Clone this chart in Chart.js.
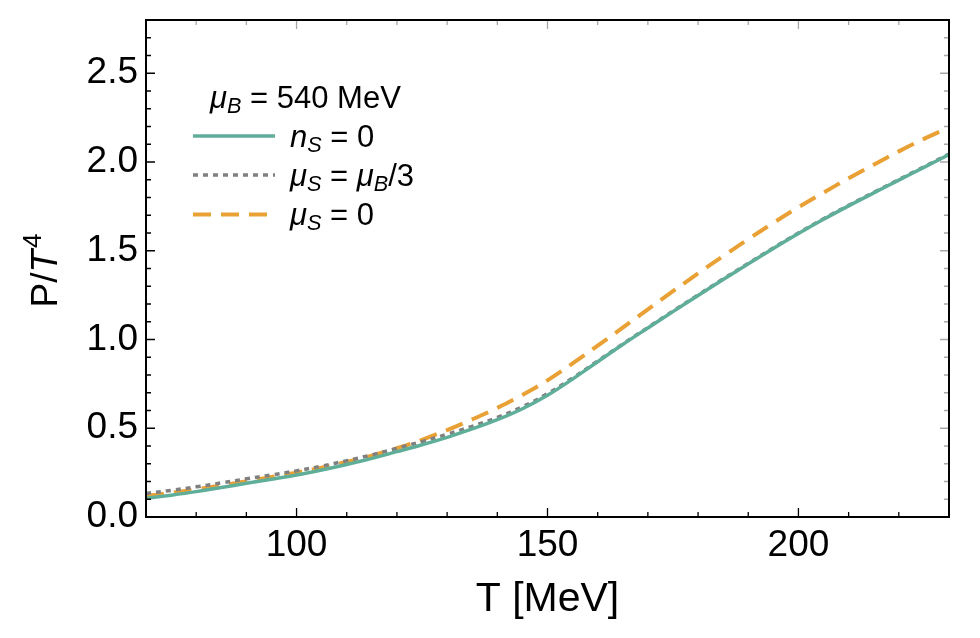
<!DOCTYPE html>
<html>
<head>
<meta charset="utf-8">
<script src="https://cdn.jsdelivr.net/npm/chart.js@4.4.1/dist/chart.umd.min.js"></script>
<style>
  html, body { margin: 0; padding: 0; background: #ffffff; }
  canvas { display: block; }
</style>
</head>
<body>
<canvas id="c" width="980" height="638"></canvas>
<script>
// ---- data ----
const temps = [70,75,80,85,90,95,100,105,110,115,120,125,130,135,140,145,150,155,160,165,170,175,180,185,190,195,200,205,210,215,220,225,230];
const nS0 = [0.105,0.123,0.143,0.166,0.190,0.213,0.237,0.265,0.296,0.330,0.368,0.407,0.449,0.496,0.548,0.610,0.686,0.777,0.875,0.972,1.065,1.157,1.248,1.338,1.426,1.513,1.597,1.677,1.753,1.826,1.898,1.970,2.042];
const muSthird = [0.133,0.150,0.170,0.192,0.215,0.237,0.260,0.287,0.317,0.350,0.387,0.425,0.466,0.511,0.561,0.621,0.695,0.783,0.879,0.975,1.068,1.160,1.251,1.341,1.429,1.516,1.600,1.680,1.756,1.829,1.901,1.973,2.045];
const muS0 = [0.118,0.136,0.156,0.178,0.201,0.225,0.250,0.278,0.310,0.346,0.388,0.435,0.490,0.550,0.615,0.688,0.770,0.865,0.965,1.067,1.170,1.272,1.372,1.470,1.565,1.657,1.745,1.828,1.908,1.985,2.060,2.130,2.195];

const xTickVals = [100,150,200];
const xTickLabels = ['100','150','200'];
const yTickVals = [0,0.5,1,1.5,2,2.5];
const yTickLabels = ['0.0','0.5','1.0','1.5','2.0','2.5'];
const xMinorStep = 10;
const yMinorStep = 0.1;

const legendTitle = [{t:'\u03BC', it:true},{t:'B', it:true, sub:true},{t:' = 540 MeV'}];
const legendRows = [
  [{t:'n', it:true},{t:'S', it:true, sub:true},{t:' = 0'}],
  [{t:'\u03BC', it:true},{t:'S', it:true, sub:true},{t:' = '},{t:'\u03BC', it:true},{t:'B', it:true, sub:true},{t:'/3'}],
  [{t:'\u03BC', it:true},{t:'S', it:true, sub:true},{t:' = 0'}]
];

const FONT = '"Liberation Sans", Arial, Helvetica, sans-serif';
const TEAL = '#5fae99';
const GRAY = '#808080';
const ORANGE = '#e9a135';

function pts(ys) { return temps.map((t, i) => ({x: t, y: ys[i]})); }

function drawRich(ctx, x, y, parts, size) {
  let cx = x;
  for (const p of parts) {
    const s = p.sub ? size * 0.7 : size;
    ctx.font = (p.it ? 'italic ' : '') + s + 'px ' + FONT;
    ctx.fillText(p.t, cx, p.sub ? y + 5 : y);
    cx += ctx.measureText(p.t).width;
  }
  return cx;
}

const decor = {
  id: 'decor',
  afterDraw(chart) {
    const ctx = chart.ctx;
    const a = chart.chartArea;
    const xs = chart.scales.x, ys = chart.scales.y;
    ctx.save();
    const tick = (color, list) => {
      ctx.strokeStyle = color; ctx.lineWidth = 1.3;
      ctx.beginPath();
      for (const l of list) { ctx.moveTo(l[0], l[1]); ctx.lineTo(l[2], l[3]); }
      ctx.stroke();
    };
    const bottomL = [], topL = [], leftL = [], rightL = [];
    for (let v = 70; v <= 230.001; v += xMinorStep) {
      const px = xs.getPixelForValue(v);
      const major = xTickVals.some(m => Math.abs(m - v) < 1e-6);
      const len = major ? 9 : 5;
      bottomL.push([px, a.bottom, px, a.bottom - len]);
      topL.push([px, a.top, px, a.top + len]);
    }
    for (let k = 0; k <= 28; k++) {
      const v = k * yMinorStep;
      const py = ys.getPixelForValue(v);
      const major = yTickVals.some(m => Math.abs(m - v) < 1e-6);
      const len = major ? 9 : 5;
      leftL.push([a.left, py, a.left + len, py]);
      rightL.push([a.right, py, a.right - len, py]);
    }
    tick('#000000', bottomL);
    tick('#000000', leftL);
    tick('#a8a8a8', topL);
    tick('#a8a8a8', rightL);
    ctx.strokeStyle = '#000000';
    ctx.lineWidth = 2;
    ctx.strokeRect(a.left, a.top, a.right - a.left, a.bottom - a.top);

    // axis titles
    ctx.fillStyle = '#000000';
    ctx.textBaseline = 'alphabetic';
    ctx.textAlign = 'center';
    ctx.font = '41px ' + FONT;
    ctx.fillText('T [MeV]', (a.left + a.right) / 2, 611);

    ctx.save();
    ctx.translate(57, (a.top + a.bottom) / 2 + 2);
    ctx.rotate(-Math.PI / 2);
    ctx.textAlign = 'left';
    const ys1 = 37;
    ctx.font = ys1 + 'px ' + FONT;
    const w1 = ctx.measureText('P/').width;
    ctx.font = 'italic ' + ys1 + 'px ' + FONT;
    const w2 = ctx.measureText('T').width;
    ctx.font = (ys1 * 0.7) + 'px ' + FONT;
    const w3 = ctx.measureText('4').width;
    let sx = -(w1 + w2 + w3 + 2) / 2;
    ctx.font = ys1 + 'px ' + FONT;
    ctx.fillText('P/', sx, 0); sx += w1;
    ctx.font = 'italic ' + ys1 + 'px ' + FONT;
    ctx.fillText('T', sx, 0); sx += w2 + 2;
    ctx.font = (ys1 * 0.7) + 'px ' + FONT;
    ctx.fillText('4', sx, -16);
    ctx.restore();

    // legend
    ctx.textAlign = 'left';
    ctx.fillStyle = '#000000';
    const lsize = 31;
    drawRich(ctx, 210, 108, legendTitle, lsize);
    const rowBase = [146.5, 185.5, 225];
    const ds = chart.data.datasets;
    legendRows.forEach((row, i) => {
      const d = ds[i];
      ctx.save();
      ctx.strokeStyle = d.borderColor;
      ctx.lineWidth = d.borderWidth;
      ctx.setLineDash(d.borderDash || []);
      ctx.lineCap = 'butt';
      ctx.beginPath();
      ctx.moveTo(193, rowBase[i] - 10.5);
      ctx.lineTo(275, rowBase[i] - 10.5);
      ctx.stroke();
      ctx.restore();
      ctx.fillStyle = '#000000';
      drawRich(ctx, 290, rowBase[i], row, lsize);
    });
    ctx.restore();
  }
};

new Chart(document.getElementById('c'), {
  type: 'line',
  data: {
    datasets: [
      { label: 'nS = 0', data: pts(nS0), borderColor: TEAL, borderWidth: 3.5, pointRadius: 0, tension: 0.4, fill: false, order: 0 },
      { label: 'muS = muB/3', data: pts(muSthird), borderColor: GRAY, borderWidth: 3.5, borderDash: [5, 5], pointRadius: 0, tension: 0.4, fill: false, order: 1 },
      { label: 'muS = 0', data: pts(muS0), borderColor: ORANGE, borderWidth: 4, borderDash: [18, 10], pointRadius: 0, tension: 0.4, fill: false, order: 2 }
    ]
  },
  options: {
    responsive: false,
    devicePixelRatio: 1,
    animation: false,
    layout: { padding: { top: 20, right: 31, left: 0, bottom: 0 } },
    plugins: { legend: { display: false }, tooltip: { enabled: false } },
    scales: {
      x: {
        type: 'linear', min: 70, max: 230,
        grid: { display: false, drawTicks: false },
        border: { display: false },
        afterBuildTicks: s => { s.ticks = xTickVals.map(v => ({ value: v })); },
        afterFit: s => { s.height = 121; s.paddingLeft = 0; s.paddingRight = 0; },
        ticks: {
          autoSkip: false, maxRotation: 0, padding: 7, color: '#000000',
          font: { family: FONT, size: 37 },
          callback: (v, i) => xTickLabels[i]
        }
      },
      y: {
        type: 'linear', min: 0, max: 2.8,
        grid: { display: false, drawTicks: false },
        border: { display: false },
        afterBuildTicks: s => { s.ticks = yTickVals.map(v => ({ value: v })); },
        afterFit: s => { s.width = 146; s.paddingTop = 0; s.paddingBottom = 0; },
        ticks: {
          autoSkip: false, padding: 8, color: '#000000',
          font: { family: FONT, size: 37 },
          callback: (v, i) => yTickLabels[i]
        }
      }
    }
  },
  plugins: [decor]
});
</script>
</body>
</html>
